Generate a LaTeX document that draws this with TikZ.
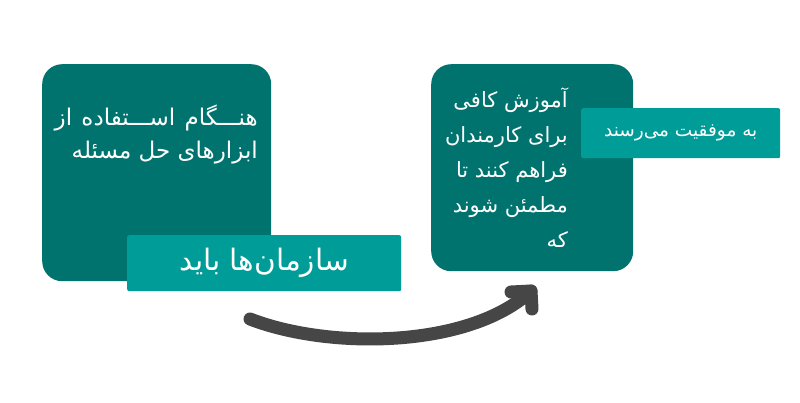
\documentclass[tikz,border=0pt]{standalone}
\usepackage{fontspec}
\newfontfamily\fa[Script=Arabic]{DejaVu Sans}
\TeXXeTstate=1
\definecolor{darkteal}{RGB}{0,115,110}
\definecolor{lightteal}{RGB}{0,156,152}
\definecolor{arrowgray}{RGB}{70,70,70}
\begin{document}
\begin{tikzpicture}[x=1pt,y=-1pt,
  bigbox/.style={fill=darkteal, rounded corners=20pt, anchor=north west, inner sep=0pt},
  labelbox/.style={fill=lightteal, rounded corners=2pt, anchor=north west, inner sep=0pt, text=white},
  boxtext/.style={text=white, align=right, inner sep=0pt},
  arrowline/.style={draw=arrowgray, line width=13pt, line cap=round, line join=round}]
\useasboundingbox (0,0) rectangle (800,403);
\fill[white] (0,0) rectangle (800,403);
% left group
\node[bigbox, minimum width=229pt, minimum height=217pt] (lb) at (42,64) {};
\node[boxtext, anchor=north east, font=\fa\fontsize{23}{33}\selectfont] (lt) at (258,105)
  {\beginR هنـــگام\hspace{2pt} اســـتفاده\hspace{2pt} از\endR\\ \beginR ابزارهای حل مسئله\endR};
\node[labelbox, minimum width=274pt, minimum height=56pt] (ll) at (127,235) {};
\node[text=white, font=\fa\fontsize{29.5}{32}\selectfont, inner sep=0pt] (llt) at (ll.center) {\beginR سازمان‌ها باید\endR};
% right group
\node[bigbox, minimum width=202pt, minimum height=207pt] (rb) at (431,64) {};
\node[boxtext, anchor=north east, font=\fa\fontsize{21}{35}\selectfont] (rt) at (568,88)
  {\beginR آموزش کافی\endR\\ \beginR برای کارمندان\endR\\ \beginR فراهم کنند تا\endR\\ \beginR مطمئن شوند\endR\\ \beginR که\endR};
\node[labelbox, minimum width=199pt, minimum height=50pt] (rl) at (581,108) {};
\node[text=white, font=\fa\fontsize{18.5}{20}\selectfont, inner sep=0pt] (rlt) at (rl.center) {\beginR به موفقیت می‌رسند\endR};
% arrow
\coordinate (as) at (250,319);
\coordinate (ae) at (531,291);
\coordinate (aw1) at (511,292);
\coordinate (aw2) at (532,309);
\draw[arrowline] (as) .. controls (330,350) and (470,348) .. (ae);
\draw[arrowline] (aw1) -- (ae) -- (aw2);
\end{tikzpicture}
\end{document}
